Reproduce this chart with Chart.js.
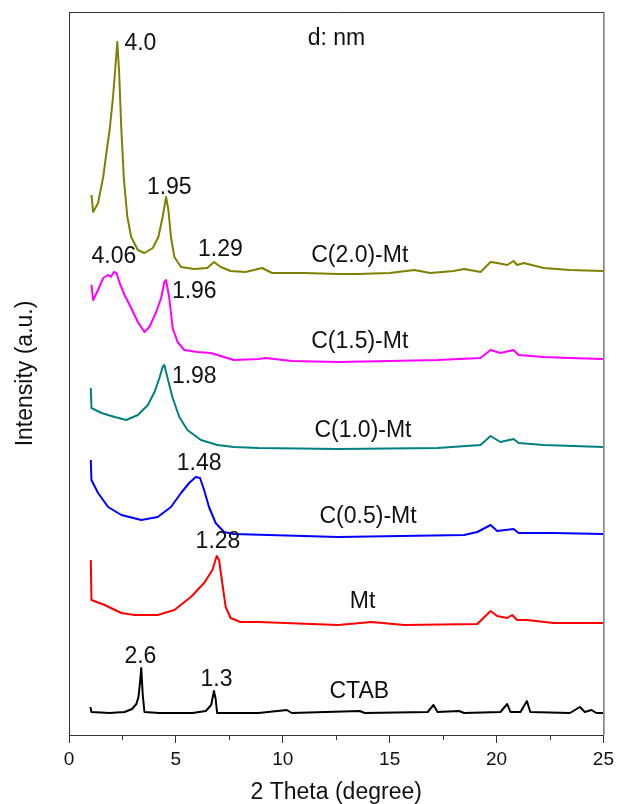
<!DOCTYPE html>
<html>
<head>
<meta charset="utf-8">
<script src="https://cdn.jsdelivr.net/npm/chart.js@4"></script>
<style>
  html, body { margin: 0; padding: 0; background: #fff; }
  #wrap { width: 619px; height: 804px; position: relative; }
</style>
</head>
<body>
<div id="wrap"><canvas id="c" width="619" height="804"></canvas></div>
<script>
// ---- data (2θ in degrees, intensity in arbitrary stacked units) ----
const seriesNames = ['C(2.0)-Mt', 'C(1.5)-Mt', 'C(1.0)-Mt', 'C(0.5)-Mt', 'Mt', 'CTAB'];

const c20X = [1.05,1.13,1.36,1.6,1.75,1.9,2.06,2.17,2.26,2.34,2.45,2.57,2.73,2.91,3.22,3.53,3.92,4.18,4.38,4.54,4.65,4.77,4.93,5.24,5.85,6.47,6.78,7.1,7.56,8.26,9.03,9.5,11.0,12.59,13.5,15.0,16.15,16.9,18.0,18.48,19.25,19.72,20.03,20.5,20.8,20.96,21.27,22.2,23.43,24.98];
const c20Y = [540,523,532,558,582,605,638,668,693,665,605,555,518,498,485,482,487,498,518,538,525,498,478,468,466,467,473,468,464,463,467,462,462,461,461,462,465,462,464,466,463,473,472,470,474,470,472,467,465,464];

const c15X = [1.05,1.13,1.36,1.6,1.83,1.95,2.1,2.22,2.37,2.6,2.91,3.22,3.53,3.76,4.08,4.31,4.46,4.54,4.69,4.85,5.08,5.39,6.01,6.63,7.25,7.71,8.87,9.19,10.42,12.59,15.0,17.24,19.25,19.72,20.18,20.8,21.03,22.2,23.43,24.98];
const c15Y = [450,435,445,457,460,458,463,462,452,440,427,413,403,408,423,437,453,455,437,407,393,385,383,382,378,375,376,377,374,373,374,375,377,385,382,385,380,378,377,376];

const c10X = [1.02,1.05,1.52,2.14,2.68,3.22,3.69,4.0,4.23,4.38,4.46,4.61,4.85,5.16,5.54,6.17,6.94,7.71,8.87,12.59,17.24,19.25,19.72,20.18,20.8,21.03,22.2,24.98];
const c10Y = [347,327,322,318,315,320,330,343,357,368,370,357,337,318,305,295,290,288,287,286,287,290,299,293,296,292,290,288];

const c05X = [1.02,1.05,1.36,1.83,2.45,3.38,4.15,4.77,5.24,5.62,5.93,6.13,6.32,6.55,6.86,7.25,7.71,12.59,18.48,19.1,19.72,20.03,20.8,21.03,22.66,24.98];
const c05Y = [275,255,242,228,220,215,218,228,242,252,258,257,245,228,212,203,201,198,200,203,210,204,206,202,202,201];

const mtX = [1.02,1.05,1.67,2.45,3.07,4.15,4.93,5.7,6.32,6.71,6.91,7.02,7.17,7.33,7.56,8.02,8.87,12.59,14.14,15.69,19.1,19.72,20.03,20.5,20.73,20.96,21.42,22.66,24.98];
const mtY = [175,135,130,122,120,120,125,138,152,165,179,175,152,128,117,113,113,110,113,110,111,124,119,117,120,115,115,112,112];

const ctabX = [1.0,1.05,1.9,2.6,2.95,3.15,3.25,3.32,3.38,3.45,3.53,4.23,5.78,6.4,6.65,6.78,6.86,6.93,8.87,10.19,10.42,13.6,13.83,16.78,17.05,17.24,18.25,18.48,20.18,20.5,20.65,21.12,21.42,21.58,23.43,23.9,24.13,24.44,24.67,24.98];
const ctabY = [28,23,22,23,26,31,38,52,67,40,23,22,22,24,30,44,36,22,22,25,22,24,22,23,30,23,24,22,23,31,23,23,34,23,22,28,23,25,22,22];

const seriesX = [c20X, c15X, c10X, c05X, mtX, ctabX];
const seriesY = [c20Y, c15Y, c10Y, c05Y, mtY, ctabY];
const seriesColors = ['#808000', '#ff00ff', '#008080', '#0000ff', '#ff0000', '#000000'];

// annotations: text and its anchor in data coordinates
const annoText = ['4.0','d: nm','1.95','1.29','C(2.0)-Mt','4.06','1.96','C(1.5)-Mt','1.98','C(1.0)-Mt','1.48','C(0.5)-Mt','1.28','Mt','2.6','1.3','CTAB'];
const annoX    = [3.34, 12.51, 4.69, 7.08, 13.6, 2.1, 5.86, 13.6, 5.86, 13.75, 6.09, 13.99, 6.97, 13.73, 3.34, 6.9, 13.58];
const annoY    = [691, 696, 547, 485, 479, 478, 443, 393, 358, 304, 271, 218, 193, 133, 78, 55, 43];

const xMin = 0, xMax = 25, xStep = 5;
const minorTicks = [2.5, 7.5, 12.5, 17.5, 22.5];
const yMin = 0, yMax = 723;

const FONT = '"Liberation Sans", Arial, Helvetica, sans-serif';

const datasets = seriesNames.map((name, i) => ({
  label: name,
  data: seriesX[i].map((x, j) => ({ x: x, y: seriesY[i][j] })),
  borderColor: seriesColors[i],
  backgroundColor: seriesColors[i],
  borderWidth: 2,
  pointRadius: 0,
  tension: 0,
  borderJoinStyle: 'round',
  fill: false
}));

const decorPlugin = {
  id: 'decor',
  afterDatasetsDraw(chart) {
    const ctx = chart.ctx;
    const xs = chart.scales.x, ys = chart.scales.y;
    ctx.save();
    ctx.fillStyle = '#111';
    ctx.font = '23px ' + FONT;
    ctx.textAlign = 'center';
    ctx.textBaseline = 'middle';
    annoText.forEach((t, i) => {
      ctx.fillText(t, xs.getPixelForValue(annoX[i]), ys.getPixelForValue(annoY[i]));
    });
    ctx.restore();
  },
  afterDraw(chart) {
    const ctx = chart.ctx;
    const a = chart.chartArea;
    const xs = chart.scales.x;
    ctx.save();
    ctx.strokeStyle = '#333';
    ctx.lineWidth = 1;
    ctx.beginPath();
    ctx.moveTo(a.left, a.top + 0.5);
    ctx.lineTo(a.right + 0.5, a.top + 0.5);
    ctx.lineTo(a.right + 0.5, a.bottom);
    ctx.stroke();
    ctx.beginPath();
    minorTicks.forEach(v => {
      const px = Math.round(xs.getPixelForValue(v)) + 0.5;
      ctx.moveTo(px, a.bottom);
      ctx.lineTo(px, a.bottom + 5);
    });
    ctx.stroke();
    ctx.restore();
  }
};

new Chart(document.getElementById('c'), {
  type: 'line',
  data: { datasets },
  options: {
    responsive: false,
    animation: false,
    layout: { padding: { top: 12, right: 12, left: 0, bottom: 0 } },
    plugins: { legend: { display: false }, tooltip: { enabled: false } },
    scales: {
      x: {
        type: 'linear',
        min: xMin, max: xMax,
        ticks: { stepSize: xStep, color: '#111', font: { family: FONT, size: 19 }, padding: 5, maxRotation: 0 },
        grid: { drawOnChartArea: false, drawTicks: true, tickLength: 8, tickColor: '#333', tickWidth: 1 },
        border: { display: true, color: '#333', width: 1 },
        title: { display: true, text: '2 Theta (degree)', color: '#111', font: { family: FONT, size: 23, lineHeight: 1 }, padding: { top: 0, bottom: 0 } },
        afterFit(s) { s.height = 69; }
      },
      y: {
        type: 'linear',
        min: yMin, max: yMax,
        ticks: { display: false },
        grid: { display: false },
        border: { display: true, color: '#333', width: 1 },
        title: { display: true, text: 'Intensity (a.u.)', color: '#111', font: { family: FONT, size: 23, lineHeight: 1 }, padding: { top: 14, bottom: 0 } },
        afterFit(s) { s.width = 69; }
      }
    }
  },
  plugins: [decorPlugin]
});
</script>
</body>
</html>
